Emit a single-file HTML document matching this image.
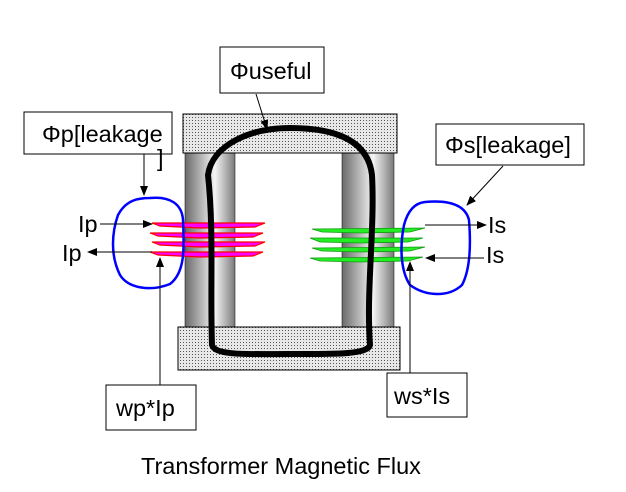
<!DOCTYPE html>
<html><head><meta charset="utf-8"><style>
body{margin:0;background:#fff}
svg{display:block}
text{font-family:"Liberation Sans",sans-serif;font-size:23.5px;fill:#000}
</style></head><body>
<svg width="626" height="492" viewBox="0 0 626 492" xmlns="http://www.w3.org/2000/svg">
<defs>
<pattern id="dots" width="3" height="3" patternUnits="userSpaceOnUse">
<rect width="3" height="3" fill="#e8e8e8"/><rect width="1" height="1" fill="#555"/>
</pattern>
<linearGradient id="leg" x1="0" x2="1" y1="0" y2="0">
<stop offset="0" stop-color="#6a6a6a"/><stop offset="0.6" stop-color="#f4f4f4"/><stop offset="1" stop-color="#7a7a7a"/>
</linearGradient>
<marker id="ah" markerWidth="10" markerHeight="8" refX="9" refY="4" orient="auto" markerUnits="userSpaceOnUse">
<path d="M0,0 L10,4 L0,8 z" fill="#000"/>
</marker>
</defs>
<rect x="185" y="152" width="50" height="176" fill="url(#leg)" stroke="#000" stroke-width="0.5"/>
<rect x="342" y="152" width="52" height="176" fill="url(#leg)" stroke="#000" stroke-width="0.5"/>
<rect x="183" y="114" width="214" height="39" fill="url(#dots)" stroke="#000"/>
<rect x="178" y="327" width="222" height="43" fill="url(#dots)" stroke="#000"/>
<g fill="#ff00ff" stroke="#ff0000" stroke-width="1.2">
<path d="M152,223 L265,223 L255,227 L200,228 L160,226 z"/>
<path d="M150,233 L263,233 L253,237 L200,238 L158,236 z"/>
<path d="M152,242 L265,242 L255,246 L200,247 L160,245 z"/>
<path d="M150,252 L263,252 L253,256 L200,257 L158,255 z"/>
</g>
<g fill="#22ee22" stroke="#119911" stroke-width="0.8">
<path d="M312,229 L425,228 L410,232 L360,233 L322,232 z"/>
<path d="M310,238 L423,238 L408,242 L360,243 L320,242 z"/>
<path d="M312,248 L425,247 L410,251 L360,252 L322,251 z"/>
<path d="M310,258 L423,257 L408,261 L360,262 L320,261 z"/>
</g>
<path d="M208,175 C212,145 250,128 290,128 C335,128 368,140 372,175 C375,230 366,290 370,345 C368,355 330,354 290,354 C250,354 215,356 212,345 C210,290 214,230 208,175 z" fill="none" stroke="#000" stroke-width="6"/>
<path d="M150,198 C170,196 182,204 183,220 C184,245 186,272 170,284 C150,292 128,288 120,275 C110,255 112,232 118,215 C126,200 138,198 150,198 z" fill="none" stroke="#0000ff" stroke-width="2.5"/>
<path d="M425,202 C448,200 465,204 469,220 C471,245 470,270 462,285 C448,298 425,296 410,285 C400,270 400,245 404,225 C408,210 415,203 425,202 z" fill="none" stroke="#0000ff" stroke-width="2.5"/>
<rect x="220" y="47" width="104" height="46" fill="#fff" stroke="#000"/>
<text x="230" y="79">Φuseful</text>
<rect x="24" y="112" width="148" height="42" fill="#fff" stroke="#000"/>
<text x="42" y="142">Φp[leakage</text>
<text x="157" y="166">]</text>
<rect x="436" y="124" width="148" height="41" fill="#fff" stroke="#000"/>
<text x="445" y="153">Φs[leakage]</text>
<rect x="106" y="385" width="90" height="45" fill="#fff" stroke="#000"/>
<text x="116" y="416">wp*Ip</text>
<rect x="387" y="373" width="80" height="44" fill="#fff" stroke="#000"/>
<text x="394" y="404">ws*Is</text>
<g stroke="#000" stroke-width="1" fill="none">
<line x1="256" y1="94" x2="267" y2="129" marker-end="url(#ah)"/>
<line x1="144" y1="154" x2="144" y2="195" marker-end="url(#ah)"/>
<line x1="503" y1="166" x2="467" y2="205" marker-end="url(#ah)"/>
<line x1="100" y1="224" x2="152" y2="224" marker-end="url(#ah)"/>
<line x1="152" y1="252" x2="88" y2="252" marker-end="url(#ah)"/>
<line x1="160" y1="385" x2="160" y2="258" marker-end="url(#ah)"/>
<line x1="425" y1="225" x2="486" y2="225" marker-end="url(#ah)"/>
<line x1="484" y1="258" x2="426" y2="258" marker-end="url(#ah)"/>
<line x1="410" y1="373" x2="410" y2="262" marker-end="url(#ah)"/>
</g>
<text x="78" y="232">Ip</text>
<text x="62" y="261">Ip</text>
<text x="488" y="233">Is</text>
<text x="486" y="263">Is</text>
<text x="141" y="474">Transformer Magnetic Flux</text>
</svg>
</body></html>
